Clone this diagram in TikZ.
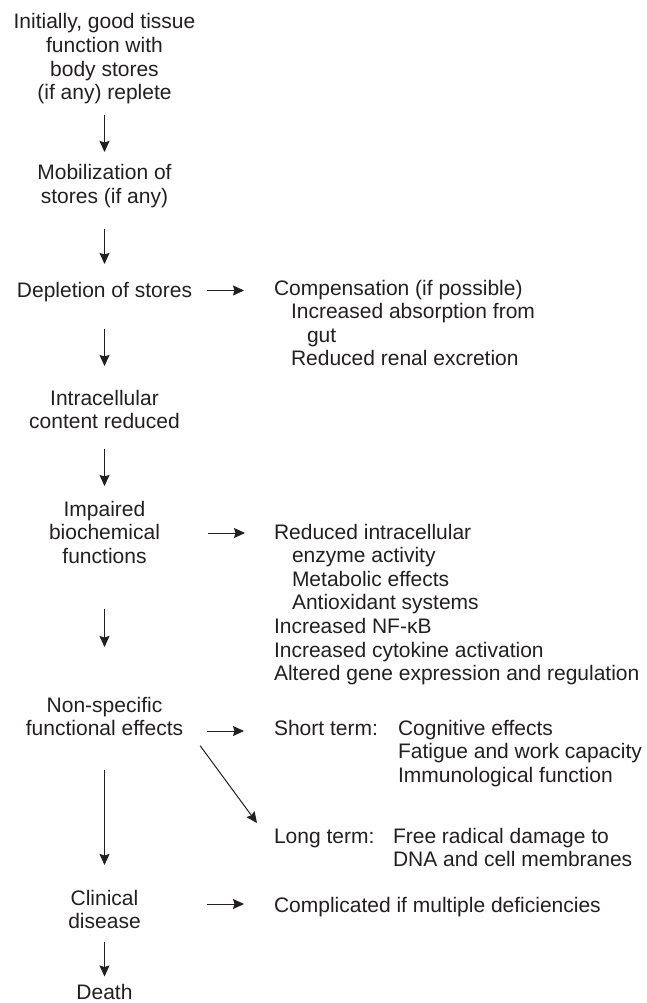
\documentclass[tikz,border=0pt]{standalone}
\usepackage{fontspec}
\setmainfont{Liberation Sans}
\usetikzlibrary{arrows.meta}
\definecolor{ink}{HTML}{231F20}
\begin{document}
\begin{tikzpicture}[x=1pt,y=1pt,
  txt/.style={inner sep=0pt, outer sep=0pt, text=ink, font=\fontsize{21}{23.6}\selectfont},
  ctr/.style={txt, anchor=base},
  lft/.style={txt, anchor=base west},
  arr/.style={draw=ink, line width=1pt, -{Stealth[length=11pt,width=10pt,inset=1.5pt]}}]
\useasboundingbox (0,0) rectangle (647,-1003);

% left column
\node[ctr] (init) at (104.5,-29) {\begin{tabular}[t]{@{}c@{}}Initially, good tissue\\function with\\body stores\\(if any) replete\end{tabular}};
\node[ctr] (mob) at (104.5,-180) {\begin{tabular}[t]{@{}c@{}}Mobilization of\\stores (if any)\end{tabular}};
\node[ctr] (dep) at (104.5,-297) {\begin{tabular}[t]{@{}c@{}}Depletion of stores\end{tabular}};
\node[ctr] (intra) at (104.5,-405) {\begin{tabular}[t]{@{}c@{}}Intracellular\\content reduced\end{tabular}};
\node[ctr] (imp) at (104.5,-516) {\begin{tabular}[t]{@{}c@{}}Impaired\\biochemical\\functions\end{tabular}};
\node[ctr] (nonspec) at (104.5,-712) {\begin{tabular}[t]{@{}c@{}}Non-specific\\functional effects\end{tabular}};
\node[ctr] (clin) at (104.5,-905) {\begin{tabular}[t]{@{}c@{}}Clinical\\disease\end{tabular}};
\node[ctr] (death) at (104.5,-999) {\begin{tabular}[t]{@{}c@{}}Death\end{tabular}};

% right column
\node[lft] (comp) at (274,-295) {\begin{tabular}[t]{@{}l@{}}Compensation (if possible)\\\hspace*{17pt}Increased absorption from\\\hspace*{33pt}gut\\\hspace*{17pt}Reduced renal excretion\end{tabular}};
\node[lft] (red) at (274,-539) {\begin{tabular}[t]{@{}l@{}}Reduced intracellular\\\hspace*{18pt}enzyme activity\\\hspace*{18pt}Metabolic effects\\\hspace*{18pt}Antioxidant systems\\Increased NF-κB\\Increased cytokine activation\\Altered gene expression and regulation\end{tabular}};
\node[lft] (st) at (274,-735) {Short term:};
\node[lft] (stlist) at (398,-735) {\begin{tabular}[t]{@{}l@{}}Cognitive effects\\Fatigue and work capacity\\Immunological function\end{tabular}};
\node[lft] (lt) at (274,-843) {Long term:};
\node[lft] (ltlist) at (393,-843) {\begin{tabular}[t]{@{}l@{}}Free radical damage to\\DNA and cell membranes\end{tabular}};
\node[lft] (cmp) at (274,-912) {Complicated if multiple deficiencies};

% vertical arrows
\draw[arr, shorten <=7.9pt, shorten >=11.5pt] (init) -- (mob);
\draw[arr, shorten <=17.9pt, shorten >=16.5pt] (mob) -- (dep);
\draw[arr, shorten <=24.9pt, shorten >=22.5pt] (dep) -- (intra);
\draw[arr, shorten <=12.9pt, shorten >=13.5pt] (intra) -- (imp);
\draw[arr, shorten <=38.9pt, shorten >=48.5pt] (imp) -- (nonspec);
\draw[arr, shorten <=26.9pt, shorten >=23.5pt] (nonspec) -- (clin);
\draw[arr, shorten <=5.9pt, shorten >=6pt] (clin) -- (death);

% horizontal arrows
\draw[arr] ([xshift=-67pt,yshift=4.5pt]comp.base west) -- ([xshift=-30pt,yshift=4.5pt]comp.base west);
\draw[arr] ([xshift=-66pt,yshift=6pt]red.base west) -- ([xshift=-29pt,yshift=6pt]red.base west);
\draw[arr] ([xshift=-67pt,yshift=4pt]st.base west) -- ([xshift=-30pt,yshift=4pt]st.base west);
\draw[arr] ([xshift=-67pt,yshift=8pt]cmp.base west) -- ([xshift=-30pt,yshift=8pt]cmp.base west);

% diagonal arrow
\draw[arr] ([xshift=17pt,yshift=-3pt]nonspec.south east) -- ([xshift=-17pt,yshift=20pt]lt.base west);
\end{tikzpicture}
\end{document}
